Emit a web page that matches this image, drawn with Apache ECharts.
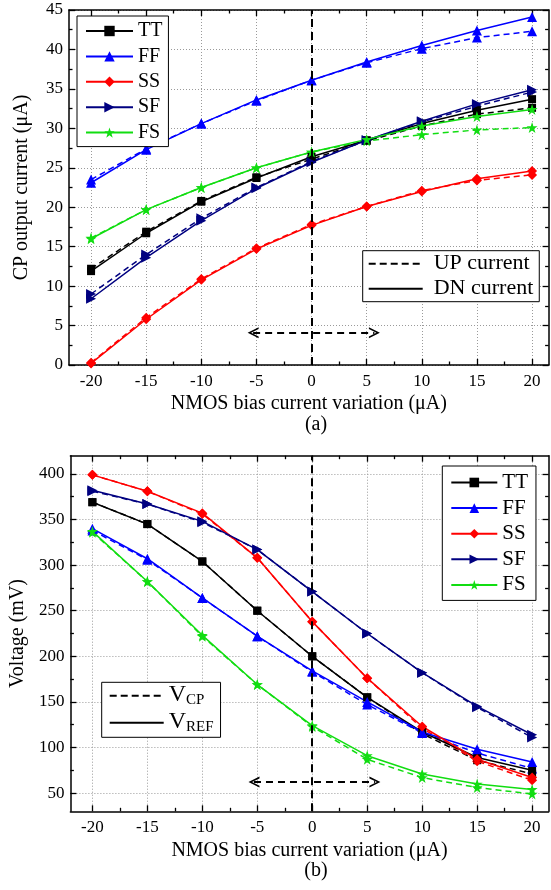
<!DOCTYPE html>
<html><head><meta charset="utf-8">
<script src="https://cdn.jsdelivr.net/npm/echarts@6/dist/echarts.min.js"></script>
<style>html,body{margin:0;padding:0;background:#fff}#c{width:551px;height:890px}</style>
</head><body><div id="c"></div>
<script>
// ---------- data ----------
const xVals = [-20, -15, -10, -5, 0, 5, 10, 15, 20];
const corners = ['TT', 'FF', 'SS', 'SF', 'FS'];

// (a) CP output current (uA): DN = solid, UP = dashed
const dnTT = [11.9, 16.7, 20.7, 23.7, 26.4, 28.5, 30.6, 32.3, 33.7];
const upTT = [12.2, 16.9, 20.8, 23.8, 26.1, 28.4, 30.3, 31.8, 32.6];
const dnFF = [23.1, 27.3, 30.6, 33.6, 36.1, 38.4, 40.5, 42.4, 44.1];
const upFF = [23.5, 27.4, 30.6, 33.5, 36.1, 38.3, 40.1, 41.5, 42.3];
const dnSS = [0.2, 5.8, 10.8, 14.7, 17.7, 20.1, 22.0, 23.6, 24.6];
const upSS = [0.3, 6.0, 10.9, 14.8, 17.8, 20.1, 22.1, 23.4, 24.1];
const dnSF = [8.4, 13.6, 18.3, 22.4, 25.7, 28.5, 30.9, 33.1, 34.9];
const upSF = [9.0, 14.0, 18.6, 22.5, 25.8, 28.5, 30.8, 32.8, 34.6];
const dnFS = [16.0, 19.7, 22.5, 25.0, 27.0, 28.6, 30.3, 31.5, 32.4];
const upFS = [16.1, 19.7, 22.5, 25.0, 27.0, 28.4, 29.2, 29.8, 30.1];

// (b) Voltage (mV): VREF = solid, VCP = dashed
const refTT = [369, 345, 304, 250, 200, 155, 117, 89, 75];
const cpTT  = [369, 345, 304, 250, 200, 155, 115, 86, 71];
const refFF = [340, 307, 264, 222, 184, 150, 117, 98, 84];
const cpFF  = [338, 306, 264, 222, 183, 147, 116, 94, 77];
const refSS = [399, 381, 357, 308, 238, 176, 123, 87, 67];
const cpSS  = [399, 381, 356, 308, 238, 176, 121, 85, 64];
const refSF = [382, 367, 348, 317, 271, 225, 182, 145, 114];
const cpSF  = [381, 367, 347, 317, 271, 225, 182, 144, 111];
const refFS = [337, 282, 223, 169, 124, 91, 71, 60, 54];
const cpFS  = [336, 282, 222, 169, 123, 87, 67, 56, 49];

// ticks
const xMajor = [-20, -15, -10, -5, 0, 5, 10, 15, 20];
const xMinor = [-17.5, -12.5, -7.5, -2.5, 2.5, 7.5, 12.5, 17.5];
const yTopMajor = [0, 5, 10, 15, 20, 25, 30, 35, 40, 45];
const yTopMinor = [2.5, 7.5, 12.5, 17.5, 22.5, 27.5, 32.5, 37.5, 42.5];
const yBotMajor = [50, 100, 150, 200, 250, 300, 350, 400];
const yBotMinor = [75, 125, 175, 225, 275, 325, 375];

// annotations (data coords)
const zeroLineX = 0;
const arrowTop = [-5.3, 5.7, 4.1];
const arrowBot = [-5.3, 5.7, 62];

// ---------- styles ----------
const FONT = 'Liberation Serif';
const STAR = 'path://M50,0 L61.2,34.5 L97.6,34.5 L68.2,55.9 L79.4,90.5 L50,69.1 L20.6,90.5 L31.8,55.9 L2.4,34.5 L38.8,34.5 Z';
const CHEV = 'path://M0,10 L5,0 L10,10 L8.4,10 L5,3.2 L1.6,10 Z';
const styleMap = {
  TT: {color: '#000000', symbol: 'rect', size: 8, rot: 0},
  FF: {color: '#0000ff', symbol: 'triangle', size: 10, rot: 0},
  SS: {color: '#ff0000', symbol: 'diamond', size: 10, rot: 0},
  SF: {color: '#000080', symbol: 'triangle', size: 10, rot: -90},
  FS: {color: '#11dd11', symbol: STAR, size: 11, rot: 0}
};

function mkLine(name, vals, g, dashed) {
  const s = styleMap[name];
  return {
    type: 'line', name, xAxisIndex: g * 4, yAxisIndex: g * 4,
    data: xVals.map((x, i) => [x, vals[i]]),
    symbol: s.symbol, symbolSize: s.size, symbolRotate: s.rot,
    lineStyle: {color: s.color, width: 1.5, type: dashed ? [6, 4] : 'solid'},
    itemStyle: {color: s.color},
    animation: false, z: dashed ? 3 : 4
  };
}

function axes(dim, g, min, max, major, minor, name, nameGap) {
  const pos = dim === 'x' ? ['bottom', 'top'] : ['left', 'right'];
  const list = [];
  pos.forEach((p, pi) => {
    [major, minor].forEach((vals, mi) => {
      const main = pi === 0 && mi === 0;
      const ax = {
        type: 'value', gridIndex: g, min, max, position: p,
        axisLine: {show: mi === 0, onZero: false, lineStyle: {color: '#000', width: 1.5}},
        axisTick: {show: true, inside: true, length: mi === 0 ? 6 : 3.5, customValues: vals,
                   lineStyle: {color: '#000', width: 1.3}},
        axisLabel: {show: main, customValues: vals, color: '#000', fontFamily: FONT, fontSize: 17,
                    margin: dim === 'x' ? 8 : 6},
        splitLine: {show: main, lineStyle: {color: '#9a9a9a', type: [1, 2], width: 1}},
        minorTick: {show: false}, minorSplitLine: {show: false},
        silent: true
      };
      if (main) {
        Object.assign(ax, {
          name, nameLocation: 'middle', nameGap,
          nameTextStyle: {color: '#000', fontFamily: FONT, fontSize: 20}
        });
      }
      list.push(ax);
    });
  });
  return list;
}

const xAxis = [
  ...axes('x', 0, -22, 21.5, xMajor, xMinor, 'NMOS bias current variation (\u03bcA)', 29),
  ...axes('x', 1, -22, 21.5, xMajor, xMinor, 'NMOS bias current variation (\u03bcA)', 29)
];
const yAxis = [
  ...axes('y', 0, 0, 45, yTopMajor, yTopMinor, 'CP output current (\u03bcA)', 37),
  ...axes('y', 1, 30, 420, yBotMajor, yBotMinor, 'Voltage (mV)', 40)
];

const topDn = {TT: dnTT, FF: dnFF, SS: dnSS, SF: dnSF, FS: dnFS};
const topUp = {TT: upTT, FF: upFF, SS: upSS, SF: upSF, FS: upFS};
const botRef = {TT: refTT, FF: refFF, SS: refSS, SF: refSF, FS: refFS};
const botCp = {TT: cpTT, FF: cpFF, SS: cpSS, SF: cpSF, FS: cpFS};

const series = [];
corners.forEach(c => series.push(mkLine(c, topDn[c], 0, false)));
corners.forEach(c => series.push(mkLine(c, topUp[c], 0, true)));
corners.forEach(c => series.push(mkLine(c, botRef[c], 1, false)));
corners.forEach(c => series.push(mkLine(c, botCp[c], 1, true)));

function addMarks(s, arrow) {
  s.markLine = {
    silent: true, animation: false, symbol: ['none', 'none'], label: {show: false},
    lineStyle: {color: '#000', type: [8, 5], width: 2},
    data: [
      {xAxis: zeroLineX},
      [{coord: [arrow[0], arrow[2]], symbol: CHEV, symbolSize: 11, lineStyle: {type: [7, 5], width: 2, color: '#000'}},
       {coord: [arrow[1], arrow[2]], symbol: CHEV, symbolSize: 11}]
    ]
  };
}
addMarks(series[0], arrowTop);
addMarks(series[10], arrowBot);

// dummy series for style legends
function dummy(name, g, dashed) {
  return {type: 'line', name, xAxisIndex: g * 4, yAxisIndex: g * 4, data: [], symbol: 'circle',
          lineStyle: {color: '#000', width: 2, type: dashed ? [7, 4] : 'solid'},
          itemStyle: {color: 'rgba(0,0,0,0)'}};
}
series.push(dummy('UP current', 0, true), dummy('DN current', 0, false),
            dummy('VCP', 1, true), dummy('VREF', 1, false));

const legBase = {
  orient: 'vertical', selectedMode: false, backgroundColor: '#fff', borderColor: '#000',
  borderWidth: 1, borderRadius: 0, z: 10
};

const option = {
  backgroundColor: '#fff',
  animation: false,
  grid: [
    {left: 69, top: 10, width: 479.6, height: 355, containLabel: false},
    {left: 69, top: 455.7, width: 479.6, height: 355.6, containLabel: false}
  ],
  title: [
    {text: '(a)', left: 311, top: 410, textAlign: 'center',
     textStyle: {fontFamily: FONT, fontSize: 20, fontWeight: 'normal', color: '#000'}},
    {text: '(b)', left: 311, top: 856, textAlign: 'center',
     textStyle: {fontFamily: FONT, fontSize: 20, fontWeight: 'normal', color: '#000'}}
  ],
  legend: [
    Object.assign({}, legBase, {
      left: 77, top: 16, data: corners, itemWidth: 47, itemHeight: 13, itemGap: 5.4,
      padding: [5, 6, 4, 8], textStyle: {fontFamily: FONT, fontSize: 20, color: '#000'}
    }),
    Object.assign({}, legBase, {
      left: 362.7, top: 250.7,
      data: [{name: 'UP current', itemStyle: {opacity: 0}}, {name: 'DN current', itemStyle: {opacity: 0}}],
      itemWidth: 54, itemHeight: 12, itemGap: 3, padding: [2, 6, 2, 5],
      formatter: n => '{g|}' + n,
      textStyle: {fontFamily: FONT, fontSize: 22, color: '#000', rich: {g: {width: 6}}}
    }),
    Object.assign({}, legBase, {
      left: 442.3, top: 466, data: corners, itemWidth: 46, itemHeight: 12, itemGap: 4.6,
      padding: [6, 8, 5, 8], textStyle: {fontFamily: FONT, fontSize: 21, color: '#000'}
    }),
    Object.assign({}, legBase, {
      left: 101.7, top: 682.3,
      data: [{name: 'VCP', itemStyle: {opacity: 0}}, {name: 'VREF', itemStyle: {opacity: 0}}],
      itemWidth: 54, itemHeight: 12, itemGap: 0, padding: [0, 7, 1, 7],
      formatter: n => n === 'VCP' ? '{v|V}{s|CP}' : '{v|V}{s|REF}',
      textStyle: {fontFamily: FONT, color: '#000',
        rich: {
          v: {fontFamily: FONT, fontSize: 24, lineHeight: 24, padding: [0, 0, 3, 0], color: '#000'},
          s: {fontFamily: FONT, fontSize: 15, lineHeight: 15, verticalAlign: 'bottom', color: '#000'}
        }}
    })
  ],
  xAxis, yAxis, series
};
const chart = echarts.init(document.getElementById('c'));
chart.setOption(option);
</script></body></html>
